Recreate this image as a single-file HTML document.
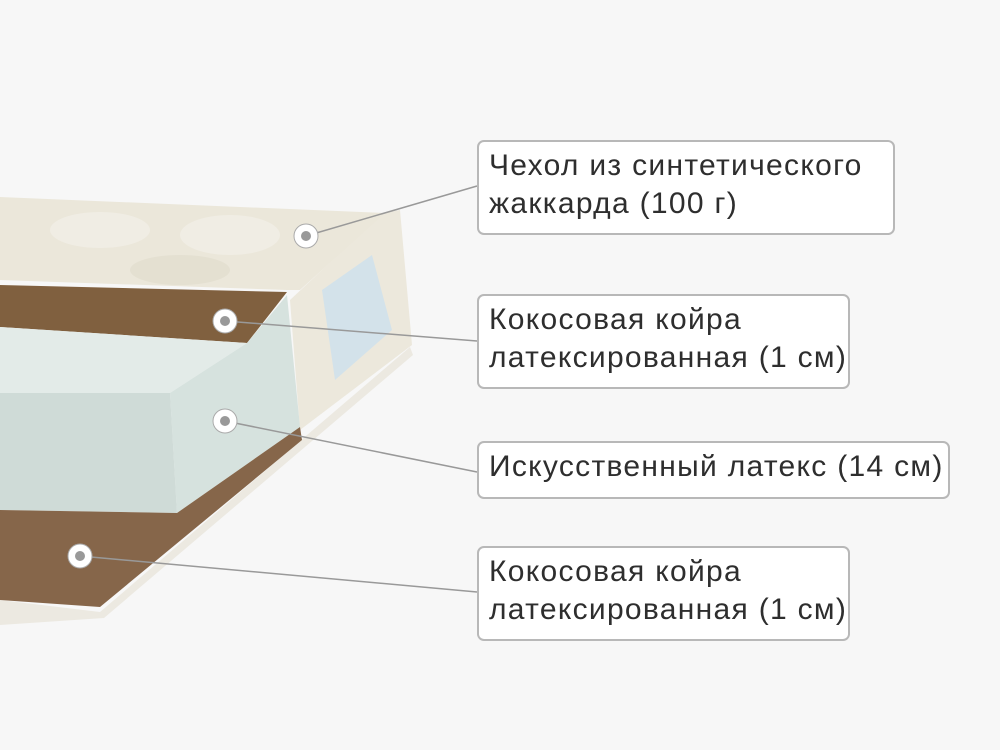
<!DOCTYPE html>
<html><head><meta charset="utf-8"><style>
body{margin:0;width:1000px;height:750px;background:#f7f7f7;overflow:hidden;position:relative;font-family:"Liberation Sans",sans-serif}
svg{position:absolute;left:0;top:0}
.b{position:absolute;left:477px;background:#fff;border:2px solid #b8b8b8;border-radius:7px;box-sizing:border-box;padding:5px 0 0 10px;font-size:30px;letter-spacing:1.3px;line-height:38px;color:#2e2e2e;white-space:nowrap}
</style></head><body>
<svg width="1000" height="750">
<polygon points="0,600 100,612 410,347 413,355 104,618 0,625" fill="#ece9e1"/>
<polygon points="383,213 400,210 412,345 300,430 290,300" fill="#ece8dc"/>
<polygon points="322,290 372,255 392,330 335,380" fill="#d3e2ea"/>
<polygon points="0,197 385,213 300,290 287,290 0,280" fill="#ebe7da"/>
<ellipse cx="100" cy="230" rx="50" ry="18" fill="#f0ede4"/>
<ellipse cx="230" cy="235" rx="50" ry="20" fill="#f0ede4"/>
<ellipse cx="180" cy="270" rx="50" ry="15" fill="#e4e0d1"/>
<polygon points="0,285 287,292 247,343 0,327" fill="#80603f"/>
<polygon points="0,327 247,343 170,393 0,393" fill="#e3ebe8"/>
<polygon points="170,393 247,343 287,295 300,427 177,513" fill="#d6e2de"/>
<polygon points="0,393 170,393 177,513 0,510" fill="#cfdbd7"/>
<polygon points="0,510 177,513 300,427 302,440 100,607 0,600" fill="#86664a"/>
<g stroke="#999" stroke-width="1.5" fill="none">
<line x1="306" y1="236" x2="477" y2="186"/>
<line x1="225" y1="321" x2="477" y2="341"/>
<line x1="225" y1="421" x2="477" y2="472"/>
<line x1="80" y1="556" x2="477" y2="592"/>
</g>
<g fill="#fff" stroke="#aaa" stroke-width="1">
<circle cx="306" cy="236" r="12"/><circle cx="225" cy="321" r="12"/><circle cx="225" cy="421" r="12"/><circle cx="80" cy="556" r="12"/>
</g>
<g fill="#999"><circle cx="306" cy="236" r="5"/><circle cx="225" cy="321" r="5"/><circle cx="225" cy="421" r="5"/><circle cx="80" cy="556" r="5"/></g>
</svg>
<div class="b" style="top:140px;width:418px;height:95px">Чехол из синтетического<br>жаккарда (100 г)</div>
<div class="b" style="top:294px;width:373px;height:95px">Кокосовая койра<br>латексированная (1 см)</div>
<div class="b" style="top:441px;width:473px;height:58px">Искусственный латекс (14 см)</div>
<div class="b" style="top:546px;width:373px;height:95px">Кокосовая койра<br>латексированная (1 см)</div>
</body></html>
